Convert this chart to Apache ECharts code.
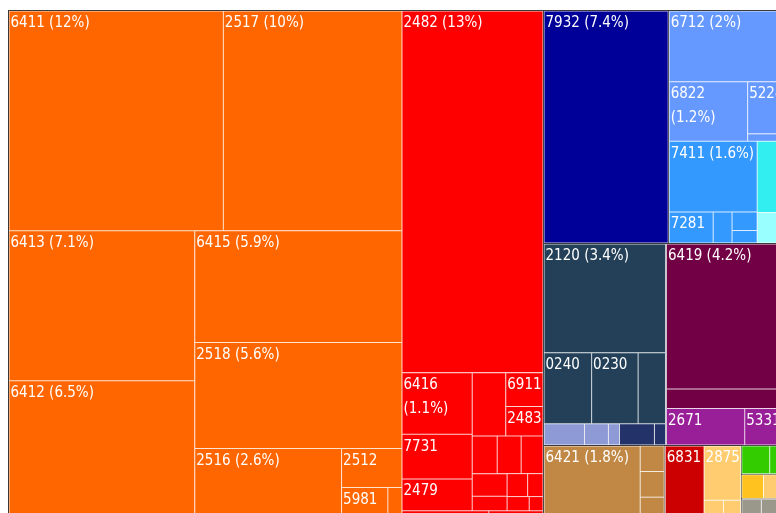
<!DOCTYPE html>
<html>
<head>
<meta charset="utf-8">
<title>Export treemap</title>
<script src="https://cdn.jsdelivr.net/npm/echarts@6/dist/echarts.min.js"></script>
<style>
  html, body { margin: 0; padding: 0; background: #ffffff; }
  #chart { width: 776px; height: 513px; }
</style>
</head>
<body>
<div id="chart"></div>
<script>
// Export shares in percent of the total, by SITC code.
// An empty code is a product too small to carry a label.
// Label kinds: 'pct' = code and share, 'pct2' = the same on two lines, 'code' = code only.

// Paper and pulp
const paperCodes  = ['6411', '2517', '6413', '6412', '6415', '2518', '2516', '2512', '5981', ''];
const paperValues = [12, 10, 7.1, 6.5, 5.9, 5.6, 2.6, 0.6, 0.36, 0.11];
const paperLabels = ['pct', 'pct', 'pct', 'pct', 'pct', 'pct', 'pct', 'code', 'code', ''];

// Wood
const woodCodes  = ['2482', '6416', '7731', '2479', '', '6911', '2483', '', '', '', '', '', '', '', '', '', '', ''];
const woodValues = [13, 1.1, 0.8, 0.57, 0.54, 0.32, 0.28, 0.24, 0.23, 0.21, 0.2, 0.13, 0.12, 0.09, 0.08, 0.05, 0.16, 0.1];
const woodLabels = ['pct', 'pct2', 'code', 'code', '', 'code', 'code', '', '', '', '', '', '', '', '', '', '', ''];

// Ships
const shipCodes  = ['7932'];
const shipValues = [7.4];
const shipLabels = ['pct'];

// Metals and machinery
const metalCodes  = ['6712', '6822', '5224', '', '7411', '7281', '', '', '', '', ''];
const metalValues = [2, 1.2, 0.42, 0.06, 1.6, 0.35, 0.15, 0.12, 0.08, 0.4, 0.17];
const metalLabels = ['pct', 'pct2', 'code', '', 'pct', 'code', '', '', '', '', ''];

// Minerals and food
const mineralCodes  = ['2120', '0240', '0230', '', '', '', '', '', ''];
const mineralValues = [3.4, 0.87, 0.85, 0.5, 0.22, 0.13, 0.06, 0.19, 0.06];
const mineralLabels = ['pct', 'code', 'code', '', '', '', '', '', ''];

// Board and textiles
const boardCodes  = ['6419', '', '2671', '5331'];
const boardValues = [4.2, 0.57, 0.73, 0.32];
const boardLabels = ['pct', '', 'code', 'code'];

// Board, plywood
const plyCodes  = ['6421', '', '', ''];
const plyValues = [1.8, 0.16, 0.16, 0.13];
const plyLabels = ['pct', '', '', ''];

// Non-ferrous metals and ores
const oreCodes  = ['6831', '2875', '', ''];
const oreValues = [0.73, 0.52, 0.09, 0.08];
const oreLabels = ['code', 'code', '', ''];

// Remaining small sectors
const greenValues  = [0.21, 0.07];
const yellowValues = [0.14, 0.1];
const grayValues   = [0.1, 0.09];

// ---- styling ----
const DARK = '#3a3a3a';
const FONT = "'DejaVu Sans Condensed', 'DejaVu Sans', sans-serif";

function tint(hex, t) {
  const n = parseInt(hex.slice(1), 16);
  const ch = [(n >> 16) & 255, (n >> 8) & 255, n & 255].map(c => Math.round(c + (255 - c) * t));
  return 'rgb(' + ch.join(',') + ')';
}

function leaf(code, value, kind, color) {
  let text = '';
  if (kind === 'pct') text = code + ' (' + value + '%)';
  else if (kind === 'pct2') text = code + '\n(' + value + '%)';
  else if (kind === 'code') text = code;
  return {
    name: code,
    value: value,
    labelText: text,
    itemStyle: { color: color, borderColor: tint(color, 0.82), borderWidth: 0.5, gapWidth: 0 }
  };
}

// A block whose children touch; thin light edges come from the leaves.
function block(children, color) {
  return { children: children, itemStyle: { borderWidth: 0, gapWidth: 0, borderColor: tint(color, 0.82) } };
}
// A block whose children are parted by a dark rule.
function ruled(children) {
  return { children: children, itemStyle: { borderWidth: 0, gapWidth: 1, borderColor: DARK } };
}

const C = {
  orange: '#ff6600', red: '#ff0000', navyShip: '#000099',
  peri: '#6699ff', blue: '#3399ff', cyan: '#33eef0', paleCyan: '#99ffff',
  slate: '#234058', lavender: '#8e9ad6', navy: '#233268',
  maroon: '#720044', purple: '#991f99', brown: '#c08844',
  darkRed: '#cc0000', sand: '#ffcc70', green: '#33cc00', yellow: '#ffc21f', gray: '#99988a'
};

const P = i => leaf(paperCodes[i], paperValues[i], paperLabels[i], C.orange);
const Wd = i => leaf(woodCodes[i], woodValues[i], woodLabels[i], C.red);
const M = (i, col) => leaf(metalCodes[i], metalValues[i], metalLabels[i], col);
const N = (i, col) => leaf(mineralCodes[i], mineralValues[i], mineralLabels[i], col);
const B = (i, col) => leaf(boardCodes[i], boardValues[i], boardLabels[i], col);
const Y = i => leaf(plyCodes[i], plyValues[i], plyLabels[i], C.brown);
const O = (i, col) => leaf(oreCodes[i], oreValues[i], oreLabels[i], col);

const paper = block([
  P(0), P(1), P(2), P(3),
  block([
    block([P(4), P(5)], C.orange),
    block([P(6), block([P(7), block([P(8), P(9)], C.orange)], C.orange)], C.orange)
  ], C.orange)
], C.orange);

const wood = block([
  Wd(0),
  block([
    block([
      block([Wd(1), Wd(2), Wd(3)], C.red),
      block([
        block([Wd(4), block([Wd(5), Wd(6)], C.red)], C.red),
        block([Wd(7), Wd(8), Wd(9)], C.red),
        block([
          block([Wd(10), Wd(11)], C.red),
          block([Wd(12), Wd(13)], C.red),
          block([Wd(14), Wd(15)], C.red)
        ], C.red)
      ], C.red)
    ], C.red),
    block([Wd(16), Wd(17)], C.red)
  ], C.red)
], C.red);

const ships = leaf(shipCodes[0], shipValues[0], shipLabels[0], C.navyShip);

const metals = block([
  M(0, C.peri),
  block([M(1, C.peri), block([M(2, C.peri), M(3, C.peri)], C.peri)], C.peri),
  block([
    block([M(4, C.blue), block([M(5, C.blue), M(6, C.blue), block([M(7, C.blue), M(8, C.blue)], C.blue)], C.blue)], C.blue),
    block([M(9, C.cyan), M(10, C.paleCyan)], C.cyan)
  ], C.blue)
], C.peri);

const minerals = block([
  block([
    N(0, C.slate),
    block([N(1, C.slate), N(2, C.slate), N(3, C.slate)], C.slate)
  ], C.slate),
  block([N(4, C.lavender), N(5, C.lavender), N(6, C.lavender), N(7, C.navy), N(8, C.navy)], C.slate)
], C.slate);

const board = block([
  block([B(0, C.maroon), B(1, C.maroon)], C.maroon),
  block([B(2, C.purple), B(3, C.purple)], C.purple)
], C.maroon);

const ply = block([Y(0), block([Y(1), Y(2), Y(3)], C.brown)], C.brown);

const ores = block([
  O(0, C.darkRed),
  block([O(1, C.sand), block([O(2, C.sand), O(3, C.sand)], C.sand)], C.sand)
], C.sand);

const smallSectors = ruled([
  block(greenValues.map(v => leaf('', v, '', C.green)), C.green),
  block([leaf('', yellowValues[0], '', C.yellow), leaf('', yellowValues[1], '', C.sand)], C.yellow),
  block(grayValues.map(v => leaf('', v, '', C.gray)), C.gray)
]);

const treeData = [
  block([paper, wood], C.orange),
  ruled([
    ruled([ships, metals]),
    ruled([minerals, board]),
    ruled([ply, ruled([ores, smallSectors])])
  ])
];

const chart = echarts.init(document.getElementById('chart'));
chart.setOption({
  animation: false,
  series: [{
    type: 'treemap',
    left: 8,
    top: 10,
    width: 772,
    height: 509,
    roam: false,
    nodeClick: false,
    silent: true,
    sort: false,
    squareRatio: 1,
    visibleMin: 1,
    breadcrumb: { show: false },
    upperLabel: { show: false },
    label: {
      show: true,
      position: 'insideTopLeft',
      padding: [0, 2, 0, 1],
      color: '#ffffff',
      fontFamily: FONT,
      fontSize: 15,
      lineHeight: 24,
      overflow: 'none',
      formatter: p => (p.data && p.data.labelText) || ''
    },
    levels: [
      { itemStyle: { borderWidth: 1, borderColor: DARK, gapWidth: 1 } }
    ],
    data: treeData
  }]
});
</script>
</body>
</html>
